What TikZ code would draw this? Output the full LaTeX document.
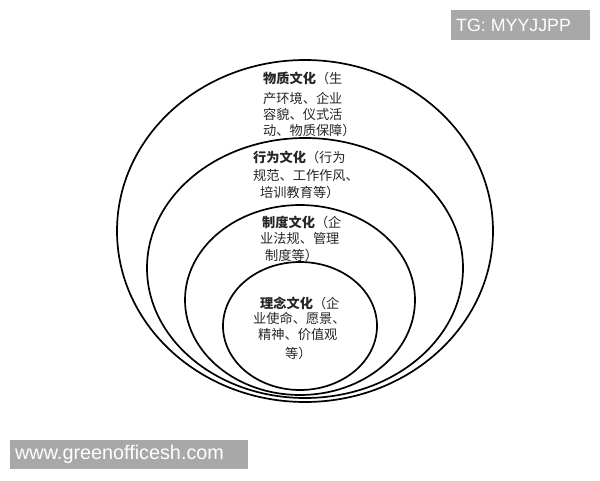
\documentclass[tikz,border=0pt]{standalone}
\usepackage{fontspec}
\newfontfamily\cjk{Noto Sans CJK SC}
\newfontfamily\wmfont{Liberation Sans}
\definecolor{wmgray}{RGB}{168,168,168}
\tikzset{
  ring/.style={draw=black, line width=1.7pt},
  txt/.style={anchor=west, inner sep=0pt, font=\cjk\fontsize{13.2}{15}\selectfont, text=black!85},
  wmtext/.style={text=white, inner sep=0pt, anchor=west}
}
\begin{document}
\begin{tikzpicture}[x=1pt,y=-1pt]
\useasboundingbox (0,0) rectangle (600,480);
\fill[white] (0,0) rectangle (600,480);
% rings
\draw[ring] (305,231) ellipse [x radius=188, y radius=171];
\draw[ring] (305,268) ellipse [x radius=158, y radius=130];
\draw[ring] (300,300) ellipse [x radius=115, y radius=95];
\draw[ring] (300,326) ellipse [x radius=77, y radius=64];
% box 1
\node[txt] (a1) at (263,78) {\textbf{物质文化}（生};
\node[txt] (a2) at (263,98) {产环境、企业};
\node[txt] (a3) at (263,114) {容貌、仪式活};
\node[txt] (a4) at (263,130) {动、物质保障）};
% box 2
\node[txt] (b1) at (253,157) {\textbf{行为文化}（行为};
\node[txt] (b2) at (253,175) {规范、工作作风、};
\node[txt] (b3) at (260,192) {培训教育等）};
% box 3
\node[txt] (c1) at (262,222) {\textbf{制度文化}（企};
\node[txt] (c2) at (260,238) {业法规、管理};
\node[txt] (c3) at (265,255) {制度等）};
% box 4
\node[txt] (d1) at (260,303) {\textbf{理念文化}（企};
\node[txt] (d2) at (253,318) {业使命、愿景、};
\node[txt] (d3) at (258,335) {精神、价值观};
\node[txt] (d4) at (285,353) {等）};
% watermarks
\fill[wmgray] (451,10) rectangle (590,40);
\node[wmtext, font=\wmfont\fontsize{17.8}{18}\selectfont] (tg) at (456,25) {TG: MYYJJPP};
\fill[wmgray] (10,440) rectangle (248,469);
\node[wmtext, font=\wmfont\fontsize{19.8}{20}\selectfont] (www) at (15,454.5) {www.greenofficesh.com};
\end{tikzpicture}
\end{document}
